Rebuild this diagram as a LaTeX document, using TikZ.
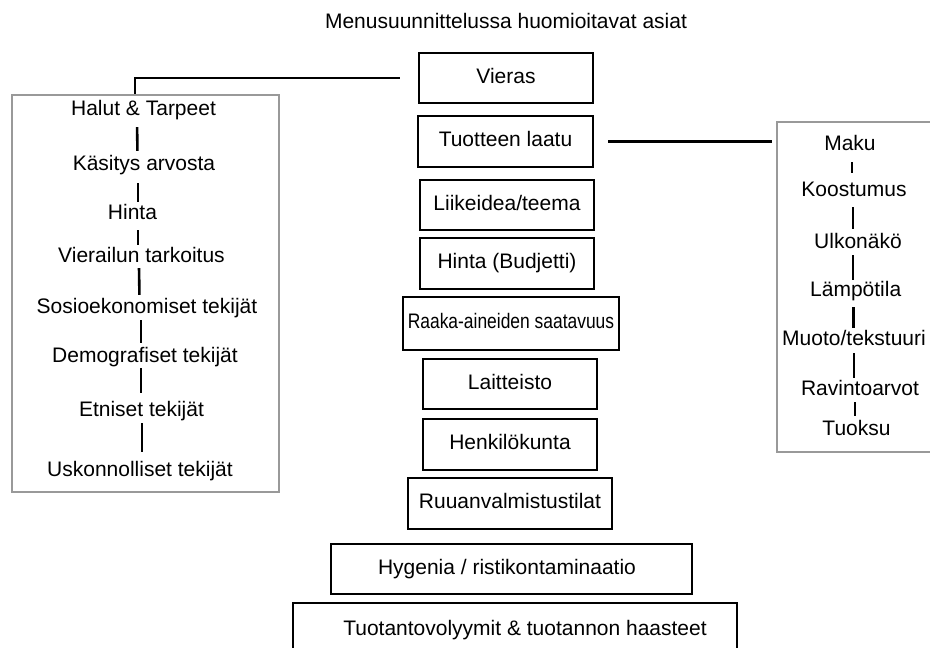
\documentclass[tikz,border=0pt]{standalone}
\usepackage{fontspec}
\setmainfont{Liberation Sans}
\usepackage{graphicx}
\begin{document}
\begin{tikzpicture}[x=1pt,y=-1pt,
  every node/.style={font=\fontsize{21}{25}\selectfont, inner sep=0pt, text height=15pt, text depth=4.5pt},
  cbox/.style={draw=black, line width=2.2pt, minimum height=50pt},
  sbox/.style={draw=black!40, line width=1.1pt},
  item/.style={anchor=base},
  bar/.style={line width=2.6pt},
  rbar/.style={line width=2.2pt},
  conn/.style={line width=2.1pt}]
\useasboundingbox (0,0) rectangle (930,648);

% title
\node[item] (title) at (506,28.3) {Menusuunnittelussa huomioitavat asiat};

% centre column
\node[cbox, minimum width=174pt] (vieras) at (506,78) {Vieras};
\node[cbox, minimum width=175pt, minimum height=51pt] (laatu) at (505.5,141.5) {Tuotteen laatu};
\node[cbox, minimum width=174pt] (liike) at (507,205) {Liikeidea/teema};
\node[cbox, minimum width=174pt, minimum height=51pt] (hinta) at (507,263.5) {Hinta (Budjetti)};
\node[cbox, minimum width=216pt, minimum height=53pt, line width=2.8pt] (raaka) at (511,323.5) {\scalebox{0.83}[1]{Raaka-aineiden saatavuus}};
\node[cbox, minimum width=174pt] (laitteisto) at (510,384) {Laitteisto};
\node[cbox, minimum width=174pt, minimum height=51pt] (henkilo) at (510,444.5) {Henkilökunta};
\node[cbox, minimum width=204pt, minimum height=51pt] (ruuan) at (510,503.5) {Ruuanvalmistustilat};
\node[cbox, minimum width=361pt, line width=2pt] (hygenia) at (511.5,569) {Hygenia / ristikontaminaatio\hspace*{9pt}};
\node[cbox, minimum width=444pt, minimum height=54pt, line width=2pt] (tuotanto) at (515,630) {\hspace*{20pt}Tuotantovolyymit \& tuotannon haasteet};

% left box
\node[sbox, minimum width=267pt, minimum height=397pt] (lbox) at (145.5,293.5) {};
\node[item] (l1) at (143.5,115.7) {Halut \& Tarpeet};
\node[item] (l2) at (144,170) {Käsitys arvosta};
\node[item] (l3) at (132.5,219) {Hinta};
\node[item] (l4) at (141.5,262.7) {Vierailun tarkoitus};
\node[item] (l5) at (147,313.3) {Sosioekonomiset tekijät};
\node[item] (l6) at (145,362.7) {Demografiset tekijät};
\node[item] (l7) at (141.5,416) {Etniset tekijät};
\node[item] (l8) at (140,476) {Uskonnolliset tekijät};

\draw[bar, shorten <=6.8pt, shorten >=4pt] (l1.south -| 137,0) -- (l2.north -| 137.5,0);
\draw[bar, shorten <=8.5pt, shorten >=2pt] (l2.south -| 138,0) -- (l3.north -| 138,0);
\draw[bar, shorten <=6.5pt, shorten >=2.7pt] (l3.south -| 138,0) -- (l4.north -| 138,0);
\draw[bar, shorten <=0.8pt, shorten >=3.3pt] (l4.south -| 139,0) -- (l5.north -| 139.5,0);
\draw[bar, shorten <=2.2pt, shorten >=4.7pt] (l5.south -| 141,0) -- (l6.north -| 141,0);
\draw[bar, shorten <=0.8pt, shorten >=8pt] (l6.south -| 141,0) -- (l7.north -| 141,0);
\draw[bar, shorten <=2.5pt, shorten >=9pt] (l7.south -| 142,0) -- (l8.north -| 142,0);

% right box
\node[sbox, minimum width=168pt, minimum height=330pt] (rbox) at (861,287) {};
\node[item] (r1) at (850,150) {Maku};
\node[item] (r2) at (854,196.7) {Koostumus};
\node[item] (r3) at (858,248.3) {Ulkonäkö};
\node[item] (r4) at (855.7,296.7) {Lämpötila};
\node[item] (r5) at (854,345) {Muoto/tekstuuri};
\node[item] (r6) at (860,395) {Ravintoarvot};
\node[item] (r7) at (856.5,435) {Tuoksu};

\draw[rbar, shorten <=7.5pt, shorten >=8.7pt] (r1.south -| 851.7,0) -- (r2.north -| 851.7,0);
\draw[rbar, shorten <=5.8pt, shorten >=4.3pt] (r2.south -| 853,0) -- (r3.north -| 853,0);
\draw[rbar, shorten <=2.2pt, shorten >=1.7pt] (r3.south -| 853.3,0) -- (r4.north -| 853.3,0);
\draw[rbar, shorten <=5.8pt, shorten >=2pt] (r4.south -| 853.5,0) -- (r5.north -| 853.5,0);
\draw[rbar, shorten <=3.5pt, shorten >=2pt] (r5.south -| 854,0) -- (r6.north -| 854,0);
\draw[rbar, shorten <=2.5pt, shorten >=3.7pt] (r6.south -| 855,0) -- (r7.north -| 855,0);

% connectors
\draw[conn] ([xshift=-18pt]vieras.west) -| ([xshift=-10.5pt]lbox.north);
\draw[conn] ([xshift=14pt]laatu.east) -- ([xshift=-4pt]laatu.east -| rbox.west);
\end{tikzpicture}
\end{document}
